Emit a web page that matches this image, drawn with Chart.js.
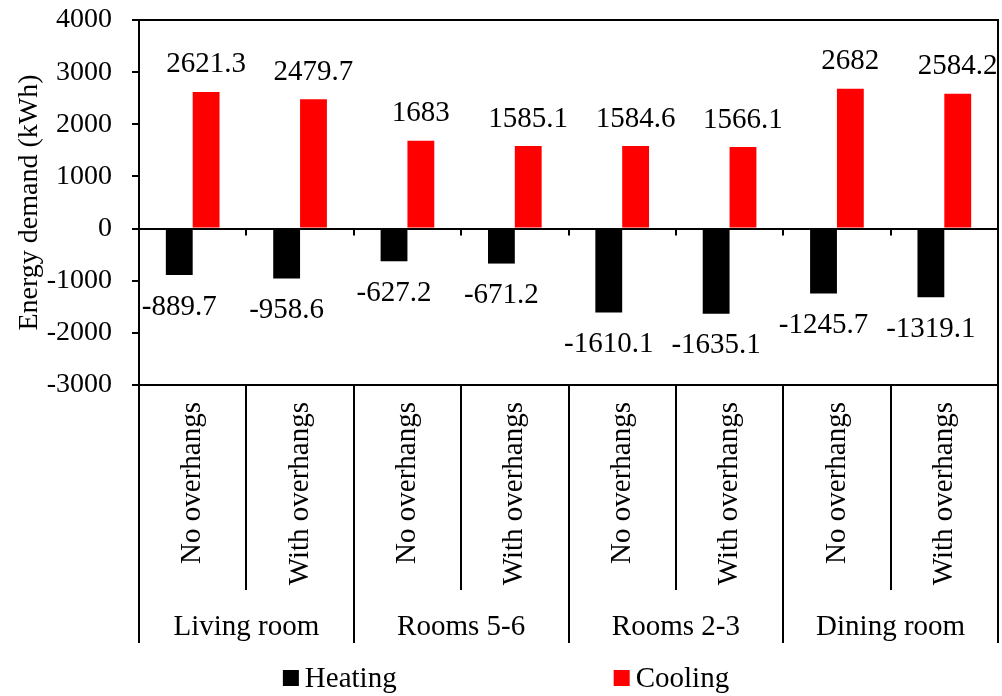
<!DOCTYPE html>
<html>
<head>
<meta charset="utf-8">
<script src="https://cdn.jsdelivr.net/npm/chart.js@4/dist/chart.umd.min.js"></script>
<style>
  html, body { margin: 0; padding: 0; background: #fff; }
  #wrap { width: 1002px; height: 696px; }
</style>
</head>
<body>
<div id="wrap"><canvas id="chart" width="1002" height="696"></canvas></div>
<script>
// chart values
const categories = ['No overhangs', 'With overhangs', 'No overhangs', 'With overhangs',
                    'No overhangs', 'With overhangs', 'No overhangs', 'With overhangs'];
const groups = ['Living room', 'Rooms 5-6', 'Rooms 2-3', 'Dining room'];
const heating = [-889.7, -958.6, -627.2, -671.2, -1610.1, -1635.1, -1245.7, -1319.1];
const cooling = [2621.3, 2479.7, 1683, 1585.1, 1584.6, 1566.1, 2682, 2584.2];
const yMin = -3000;
const yMax = 4000;
const yStep = 1000;

const SERIF = "'Liberation Serif', 'Times New Roman', serif";
const LW = 2;

// frame, separators, group labels, value labels and legend
const decorPlugin = {
    id: 'decor',
    afterDraw(chart) {
        const ctx = chart.ctx;
        const area = chart.chartArea;
        const x = chart.scales.x;
        const y = chart.scales.y;
        const zero = y.getPixelForValue(0);
        const n = categories.length;
        const sepBottom = 590;
        const groupBottom = 643;

        ctx.save();
        ctx.strokeStyle = '#000';
        ctx.lineWidth = LW;

        // top and right border of the plot
        ctx.beginPath();
        ctx.moveTo(area.left, area.top);
        ctx.lineTo(area.right, area.top);
        ctx.lineTo(area.right, groupBottom);
        ctx.stroke();

        // left axis extended down to the group row
        ctx.beginPath();
        ctx.moveTo(area.left, area.bottom);
        ctx.lineTo(area.left, groupBottom);
        ctx.stroke();

        // small ticks on the zero line and separators under the axis
        for (let i = 1; i <= n; i++) {
            const bx = Math.round(x.getPixelForValue(i - 0.5));
            ctx.beginPath();
            ctx.moveTo(bx, zero);
            ctx.lineTo(bx, zero + 7);
            ctx.stroke();
            if (i < n) {
                ctx.beginPath();
                ctx.moveTo(bx, area.bottom);
                ctx.lineTo(bx, (i % 2 === 0) ? groupBottom : sepBottom);
                ctx.stroke();
            }
        }

        // group labels
        ctx.fillStyle = '#000';
        ctx.font = '29px ' + SERIF;
        ctx.textAlign = 'center';
        ctx.textBaseline = 'middle';
        groups.forEach((g, i) => {
            const cx = (x.getPixelForValue(i * 2) + x.getPixelForValue(i * 2 + 1)) / 2;
            ctx.fillText(g, cx, 627);
        });

        // value labels
        chart.data.datasets.forEach((ds, di) => {
            const meta = chart.getDatasetMeta(di);
            meta.data.forEach((bar, i) => {
                const v = ds.data[i];
                const ly = v >= 0 ? bar.y - 27 : bar.y + 32;
                ctx.fillText(String(v), bar.x, ly);
            });
        });

        // legend
        const items = chart.data.datasets.map(ds => ({ label: ds.label, color: ds.backgroundColor }));
        const box = 16;
        const gapText = 6;
        const gapItems = 217;
        ctx.textAlign = 'left';
        const widths = items.map(it => box + gapText + ctx.measureText(it.label).width);
        const total = widths.reduce((a, b) => a + b, 0) + gapItems * (items.length - 1);
        let lx = chart.width / 2 - total / 2 + 5;
        const ly = 678;
        items.forEach((it, i) => {
            ctx.fillStyle = it.color;
            ctx.fillRect(lx, ly - box / 2, box, box);
            ctx.fillStyle = '#000';
            ctx.fillText(it.label, lx + box + gapText, ly + 1);
            lx += widths[i] + gapItems;
        });

        ctx.restore();
    }
};

const ctx = document.getElementById('chart').getContext('2d');
const chart = new Chart(ctx, {
    type: 'bar',
    data: {
        labels: categories,
        datasets: [
            {
                label: 'Heating',
                data: heating,
                backgroundColor: '#000000',
                borderWidth: 0
            },
            {
                label: 'Cooling',
                data: cooling,
                backgroundColor: '#ff0000',
                borderWidth: 0
            }
        ]
    },
    options: {
        responsive: false,
        animation: false,
        devicePixelRatio: 1,
        layout: {
            padding: { left: 0, right: 4, top: 20, bottom: 53 }
        },
        datasets: {
            bar: {
                categoryPercentage: 0.5,
                barPercentage: 1.0
            }
        },
        plugins: {
            legend: { display: false },
            tooltip: { enabled: false },
            title: { display: false }
        },
        scales: {
            x: {
                type: 'category',
                grid: { display: false, drawTicks: false },
                border: { display: true, color: '#000', width: LW },
                ticks: {
                    color: '#000',
                    autoSkip: false,
                    minRotation: 90,
                    maxRotation: 90,
                    padding: 17,
                    font: { family: SERIF, size: 29 }
                },
                afterFit(scale) {
                    scale.height = 258;
                    scale.paddingTop = 0;
                    scale.paddingBottom = 0;
                }
            },
            y: {
                min: yMin,
                max: yMax,
                grid: {
                    drawOnChartArea: true,
                    drawTicks: true,
                    tickLength: 7,
                    tickColor: '#000',
                    lineWidth: LW,
                    color: c => (c.tick && c.tick.value === 0) ? '#000' : 'rgba(0,0,0,0)'
                },
                border: { display: true, color: '#000', width: LW },
                ticks: {
                    stepSize: yStep,
                    color: '#000',
                    padding: 20,
                    font: { family: SERIF, size: 28 },
                    callback: v => String(v)
                },
                title: {
                    display: true,
                    text: 'Energy demand (kWh)',
                    color: '#000',
                    padding: { top: 13, bottom: 0 },
                    font: { family: SERIF, size: 28 }
                },
                afterFit(scale) {
                    scale.width = 139;
                    scale.paddingTop = 0;
                    scale.paddingBottom = 0;
                }
            }
        }
    },
    plugins: [decorPlugin]
});
</script>
</body>
</html>
